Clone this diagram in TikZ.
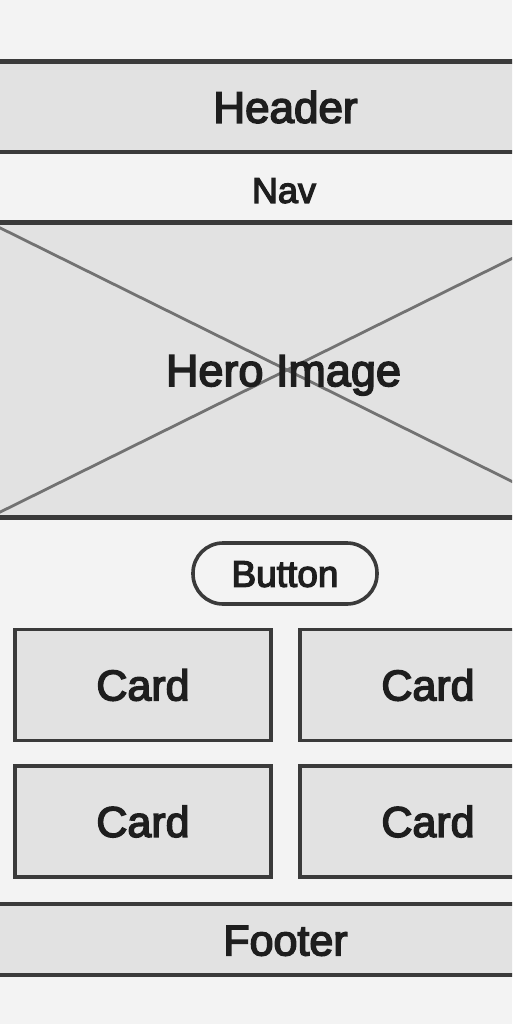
\documentclass[tikz,border=0pt]{standalone}
\usepackage{fontspec}
\setmainfont{Liberation Sans}[FakeBold=3.5]
\definecolor{bgcol}{HTML}{F3F3F3}
\definecolor{boxfill}{HTML}{E2E2E2}
\definecolor{linecol}{HTML}{3A3A3A}
\definecolor{diagcol}{HTML}{727272}
\definecolor{txtcol}{HTML}{1E1E1E}
\tikzset{
  band/.style={draw=linecol, line width=4.5pt, fill=boxfill, minimum width=620pt, inner sep=0pt},
  cardbox/.style={draw=linecol, line width=3.8pt, fill=boxfill, minimum width=256pt, minimum height=111pt, inner sep=0pt},
  btnbox/.style={draw=linecol, line width=3.6pt, fill=bgcol, minimum width=184pt, minimum height=61pt, rounded corners=30pt, inner sep=0pt},
  lbl/.style={text=txtcol, text depth=0pt, inner sep=0pt},
  diag/.style={draw=diagcol, line width=2.8pt},
  f44/.style={font=\fontsize{44}{50}\selectfont, text height=31.5pt},
  f36/.style={font=\fontsize{36}{42}\selectfont, text height=25.8pt},
  f45/.style={font=\fontsize{45}{52}\selectfont, text height=32.2pt},
  f37/.style={font=\fontsize{37}{44}\selectfont, text height=26.5pt},
  f43/.style={font=\fontsize{43}{50}\selectfont, text height=30.8pt},
}
\begin{document}
\begin{tikzpicture}[x=1pt,y=-1pt]
\useasboundingbox (0,0) rectangle (512,1024);
\fill[bgcol] (0,0) rectangle (512,1024);
\clip (0,0) rectangle (512,1024);
% header
\node[band, minimum height=90.5pt] (header) at (287,107) {};
\node[lbl, f44] (headertxt) at (285.5,107) {Header};
% nav
\node[lbl, f36] (nav) at (284,190) {Nav};
% hero
\node[band, minimum width=580pt, minimum height=295pt] (hero) at (287,370) {};
\draw[diag] ([yshift=-5pt]hero.north west) -- ([yshift=5pt]hero.south east);
\draw[diag] ([yshift=5pt]hero.south west) -- ([yshift=-5pt]hero.north east);
\node[lbl, f45] (herotxt) at (283.5,370) {Hero Image};
% button
\node[btnbox, lbl, f37] (button) at (285,573.5) {Button};
% cards
\node[cardbox, lbl, f43] (card1) at (143,685) {Card};
\node[cardbox, lbl, f43] (card2) at (428,685) {Card};
\node[cardbox, lbl, f43] (card3) at (143,821.5) {Card};
\node[cardbox, lbl, f43] (card4) at (428,821.5) {Card};
% footer
\node[band, minimum height=71pt] (footer) at (287,939.5) {};
\node[lbl, f43] (footertxt) at (285.5,940) {Footer};
\end{tikzpicture}
\end{document}
